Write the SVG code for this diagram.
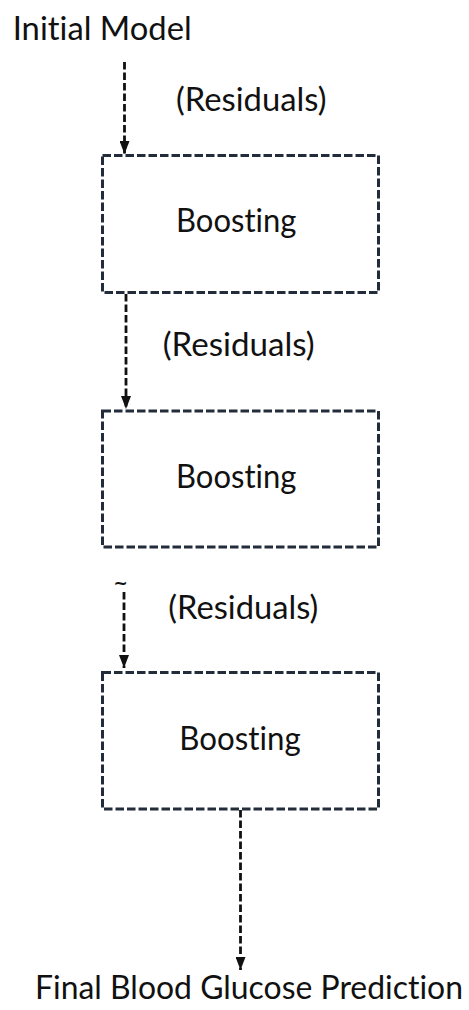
<svg xmlns="http://www.w3.org/2000/svg" width="469" height="1010" viewBox="0 0 469 1010">
  <style>
    .lbl { font-family: Lato, "Open Sans", "Liberation Sans", sans-serif; font-size: 33px; fill: #111; letter-spacing: 0.01px; font-variant-ligatures: none; font-feature-settings: "liga" 0, "clig" 0, "dlig" 0; }
    .box { fill: #fff; stroke: #232c3a; stroke-width: 3; stroke-dasharray: 8.5 3; }
    .flow { stroke: #111; stroke-width: 2.8; stroke-dasharray: 7.5 3; fill: none; marker-end: url(#head); }
    .tilde { font-family: "DejaVu Sans", sans-serif; font-size: 17px; font-weight: bold; fill: #111; }
  </style>
  <defs>
    <marker id="head" viewBox="0 0 13 10" refX="13" refY="5" markerWidth="13" markerHeight="10" markerUnits="userSpaceOnUse" orient="auto">
      <path d="M0,0 L13,5 L0,10 z" fill="#111"/>
    </marker>
  </defs>
  <rect width="469" height="1010" fill="#fff"/>

  <g id="initial-model">
    <text class="lbl" x="12.7" y="39.5" textLength="179" lengthAdjust="spacingAndGlyphs">Initial Model</text>
  </g>

  <g id="boosting-1">
    <rect class="box" x="102.5" y="155.5" width="276" height="137"/>
    <text class="lbl" x="176" y="231.5" textLength="120.5" lengthAdjust="spacingAndGlyphs">Boosting</text>
  </g>

  <g id="boosting-2">
    <rect class="box" x="102.5" y="411" width="276" height="136"/>
    <text class="lbl" x="176" y="487.5" textLength="120.5" lengthAdjust="spacingAndGlyphs">Boosting</text>
  </g>

  <g id="boosting-3">
    <rect class="box" x="102.5" y="672.5" width="276" height="136.5"/>
    <text class="lbl" x="179.3" y="749.5" textLength="121.4" lengthAdjust="spacingAndGlyphs">Boosting</text>
  </g>

  <g id="final-prediction">
    <text class="lbl" x="35" y="998.5" textLength="428" lengthAdjust="spacingAndGlyphs">Final Blood Glucose Prediction</text>
  </g>

  <g id="connectors">
    <line class="flow" x1="124.5" y1="62" x2="124.5" y2="154"/>
    <line class="flow" x1="126" y1="294" x2="126" y2="409"/>
    <line class="flow" x1="124" y1="592" x2="124" y2="668"/>
    <line class="flow" x1="240.5" y1="810" x2="240.5" y2="970"/>
    <text class="tilde" x="113.5" y="588.5">~</text>
    <text class="lbl" x="176" y="110.5" textLength="150.5" lengthAdjust="spacingAndGlyphs">(Residuals)</text>
    <text class="lbl" x="162.7" y="356" textLength="152" lengthAdjust="spacingAndGlyphs">(Residuals)</text>
    <text class="lbl" x="168.3" y="619" textLength="150" lengthAdjust="spacingAndGlyphs">(Residuals)</text>
  </g>
</svg>
